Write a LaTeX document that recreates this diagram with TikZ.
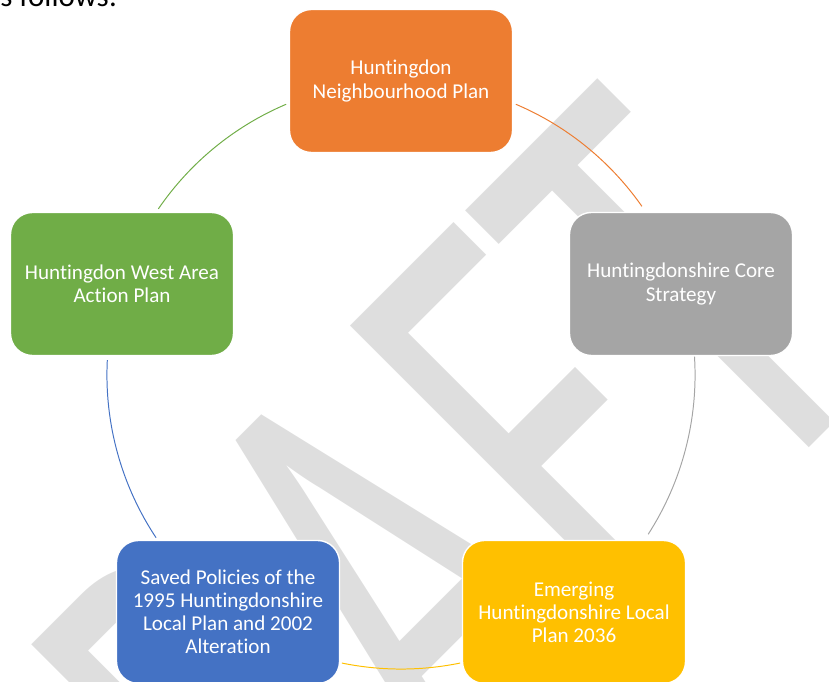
\documentclass[tikz,border=0pt]{standalone}
\usepackage{fontspec}
\setmainfont{Carlito}[Ligatures=NoCommon]
\definecolor{planOrange}{HTML}{ED7D31}
\definecolor{planGrey}{HTML}{A5A5A5}
\definecolor{planYellow}{HTML}{FFC000}
\definecolor{planBlue}{HTML}{4472C4}
\definecolor{planGreen}{HTML}{70AD47}
\definecolor{stampGrey}{HTML}{DEDEDE}

\begin{document}
\begin{tikzpicture}
    [x=0.025cm, y=0.025cm,
    plan/.style={rectangle, rounded corners=0.55cm, draw=white, line width=1pt,
        minimum width=5.575cm, minimum height=3.575cm, text=white, align=center,
        font=\fontsize{15}{16.4}\selectfont},
    link/.style={line width=0.7pt}]
    \useasboundingbox (0,0) rectangle (829,682);
    \clip (0,0) rectangle (829,682);
    % watermark, sits behind the cycle
    \node[rotate=45, anchor=base, inner sep=0, text=stampGrey] (stamp) at (509,-66)
        {\scalebox{0.63}[1]{\fontsize{455}{455}\selectfont DRAFT}};
    % tail of the sentence above the figure
    \node[anchor=base west, inner sep=0, font=\fontsize{22}{26}\selectfont] (lead) at (0,675.5) {s follows:};
    \coordinate (hub) at (401,307);
    \node[plan, fill=planOrange] (nhood) at (401,601) {Huntingdon\\Neighbourhood Plan};
    \node[plan, fill=planGrey] (core) at (681,398) {Huntingdonshire Core\\Strategy};
    \node[plan, fill=planYellow] (emerging) at (574,70) {Emerging\\Huntingdonshire Local\\Plan 2036};
    \node[plan, fill=planBlue] (saved) at (228,70) {Saved Policies of the\\1995 Huntingdonshire\\Local Plan and 2002\\Alteration};
    \node[plan, fill=planGreen] (west) at (122,398) {Huntingdon West Area\\Action Plan};
    % arcs round the hub, clockwise
    \draw[link, planOrange] (hub) ++(67:7.35cm) arc[start angle=67, end angle=35, radius=7.35cm];
    \draw[link, planGrey] (hub) ++(3.6:7.35cm) arc[start angle=3.6, end angle=-32.8, radius=7.35cm];
    \draw[link, planYellow] (hub) ++(-78.4:7.35cm) arc[start angle=-78.4, end angle=-101.6, radius=7.35cm];
    \draw[link, planBlue] (hub) ++(-146.4:7.35cm) arc[start angle=-146.4, end angle=-182.9, radius=7.35cm];
    \draw[link, planGreen] (hub) ++(145.6:7.35cm) arc[start angle=145.6, end angle=113, radius=7.35cm];
\end{tikzpicture}
\end{document}
